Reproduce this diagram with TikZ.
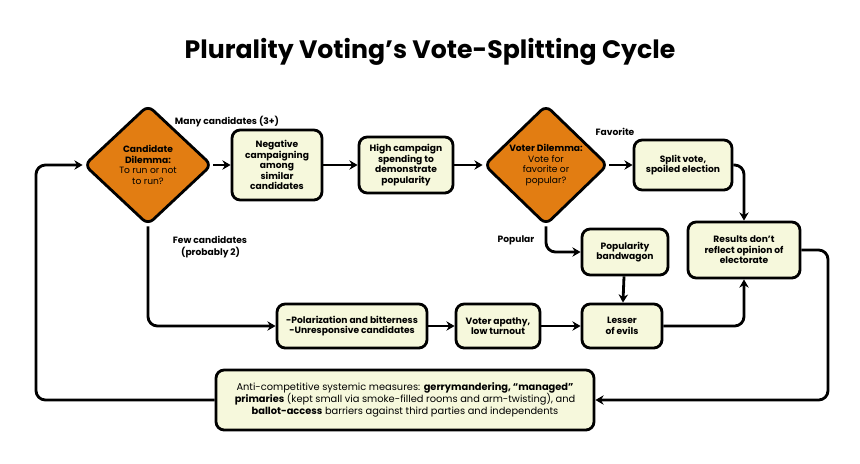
\documentclass[tikz,border=0pt]{standalone}
\usepackage{fontspec}
\setmainfont{Poppins}
\usetikzlibrary{positioning, shapes.geometric, arrows.meta}
\definecolor{boxfill}{HTML}{F6F8DC}
\definecolor{dilemma}{HTML}{E27D12}
\tikzset{
  stage/.style={draw, line width=2.4pt, rounded corners=7pt, fill=boxfill, align=center,
    font=\fontsize{7.8}{9}\selectfont\bfseries, inner sep=2pt},
  choice/.style={diamond, draw, line width=2.4pt, rounded corners=6pt, fill=dilemma, align=center,
    font=\fontsize{7.8}{9}\selectfont\bfseries, inner sep=0pt},
  flow/.style={line width=2.4pt, rounded corners=8pt, -{Stealth[length=7pt,width=8pt]}},
  tag/.style={font=\fontsize{7.8}{9.5}\selectfont\bfseries, align=center}
}
\begin{document}
\begin{tikzpicture}[x=0.03cm, y=-0.03cm]
\useasboundingbox (0,0) rectangle (860,463);

\node[font=\fontsize{21.5}{24}\selectfont\bfseries] (title) at (430,52) {Plurality Voting's Vote-Splitting Cycle};

\node[choice, minimum width=128*0.03cm, minimum height=120*0.03cm] (cand) at (148,165)
  {Candidate\\Dilemma:\\\mdseries To run or not\\\mdseries to run?};
\node[stage, minimum width=90*0.03cm, minimum height=70*0.03cm] (neg) at (277,165)
  {Negative\\campaigning\\among\\similar\\candidates};
\node[stage, minimum width=94*0.03cm, minimum height=56*0.03cm] (spend) at (406,165)
  {High campaign\\spending to\\demonstrate\\popularity};
\node[choice, minimum width=124*0.03cm, minimum height=120*0.03cm] (voter) at (546,165)
  {Voter Dilemma:\\\mdseries Vote for\\\mdseries favorite or\\\mdseries popular?};
\node[stage, minimum width=98*0.03cm, minimum height=50*0.03cm] (split) at (683,165)
  {Split vote,\\spoiled election};
\node[stage, minimum width=86*0.03cm, minimum height=46*0.03cm] (bandwagon) at (625,252)
  {Popularity\\bandwagon};
\node[stage, minimum width=112*0.03cm, minimum height=56*0.03cm] (results) at (744,250)
  {Results don’t\\reflect opinion of\\electorate};
\node[stage, minimum width=150*0.03cm, minimum height=44*0.03cm] (polar) at (352,326)
  {-Polarization and bitterness\\-Unresponsive candidates};
\node[stage, minimum width=84*0.03cm, minimum height=44*0.03cm] (apathy) at (498,326)
  {Voter apathy,\\low turnout};
\node[stage, minimum width=80*0.03cm, minimum height=44*0.03cm] (lesser) at (622,326)
  {Lesser\\of evils};
\node[stage, minimum width=378*0.03cm, minimum height=60*0.03cm, font=\fontsize{8.4}{10.5}\selectfont] (systemic) at (405,400)
  {Anti-competitive systemic measures: \textbf{gerrymandering, “managed”}\\
   \textbf{primaries} (kept small via smoke-filled rooms and arm-twisting), and\\
   \textbf{ballot-access} barriers against third parties and independents};

% labels
\node[tag] (many) at (227,122) {Many candidates (3+)};
\node[tag, align=left] (few) at (210,247) {Few candidates\\\hspace{0.9em}(probably 2)};
\node[tag] (fav) at (615,132) {Favorite};
\node[tag] (pop) at (516,240) {Popular};

% connectors
\coordinate (rightbend) at (828,250);
\coordinate (leftbend) at (36,400);
\draw[flow] (cand) -- (neg);
\draw[flow] (neg) -- (spend);
\draw[flow] (spend) -- (voter);
\draw[flow] (voter) -- (split);
\draw[flow] (split.east) -| (results.north);
\draw[flow] (voter.south) |- (bandwagon.west);
\draw[flow] (bandwagon) -- (lesser);
\draw[flow] (lesser.east) -| (results.south);
\draw[flow] (cand.south) |- (polar.west);
\draw[flow] (polar) -- (apathy);
\draw[flow] (apathy) -- (lesser);
\draw[flow] (results.east) -- (rightbend) |- (systemic.east);
\draw[flow] (systemic.west) -- (leftbend) |- (cand.west);
\end{tikzpicture}
\end{document}
